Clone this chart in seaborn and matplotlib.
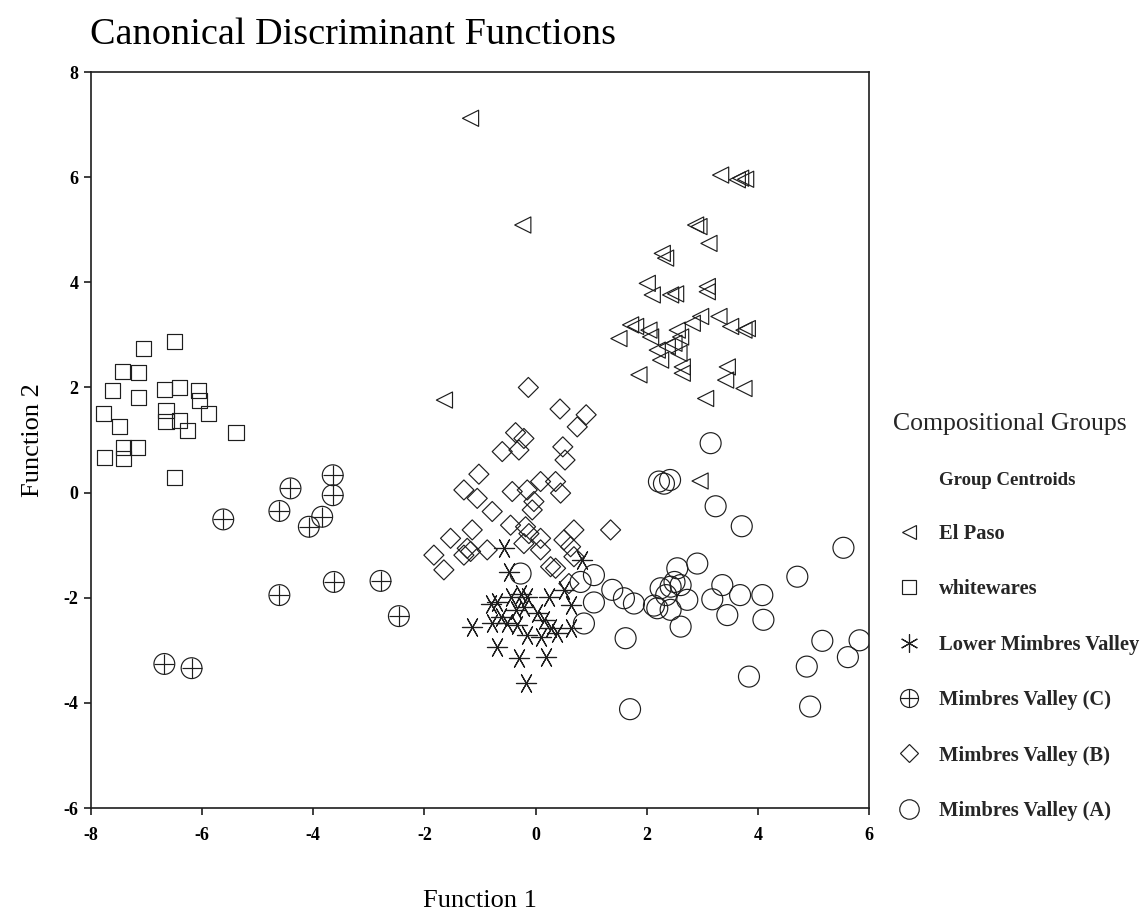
import matplotlib
matplotlib.use("Agg")
import matplotlib.pyplot as plt
from matplotlib.lines import Line2D
import seaborn as sns
import pandas as pd

# ---- Discriminant scores per compositional group ----
el_paso_f1 = [-1.17, -0.23, -1.64, 2.96, 3.33, 3.63, 3.78, 3.69, 2.88, 2.94, 3.12,
              2.28, 2.34, 2.01, 2.10, 2.43, 2.52, 3.09, 3.09, 1.71, 1.80, 1.50,
              2.04, 2.07, 2.55, 2.82, 2.97, 3.30, 3.51, 3.75, 3.81, 2.19, 2.37,
              2.49, 2.61, 2.25, 2.58, 2.64, 2.64, 1.86, 3.45, 3.42, 3.75, 3.06]
el_paso_f2 = [7.12, 5.09, 1.76, 0.22, 6.04, 5.95, 5.96, 5.98, 5.09, 5.06, 4.74,
              4.55, 4.46, 3.98, 3.76, 3.76, 3.78, 3.92, 3.82, 3.19, 3.16, 2.93,
              3.09, 2.96, 3.09, 3.22, 3.35, 3.35, 3.16, 3.09, 3.12, 2.71, 2.78,
              2.84, 2.96, 2.52, 2.65, 2.39, 2.27, 2.24, 2.39, 2.14, 1.98, 1.79]

white_f1 = [-7.06, -6.50, -7.44, -7.14, -7.62, -7.15, -6.67, -6.40, -6.07, -6.04,
            -5.89, -7.78, -7.49, -6.65, -6.65, -6.41, -6.26, -5.39, -7.42, -7.17,
            -7.75, -7.42, -6.50]
white_f2 = [2.74, 2.88, 2.30, 2.28, 1.94, 1.81, 1.96, 2.00, 1.94, 1.76,
            1.51, 1.51, 1.25, 1.56, 1.35, 1.38, 1.18, 1.15, 0.85, 0.86,
            0.67, 0.64, 0.28]

lower_f1 = [-0.57, 0.84, -0.48, -0.81, -0.69, -0.45, -0.27, -0.15, -0.21, 0.24,
            0.51, 0.63, -1.14, -0.78, -0.51, -0.33, 0.15, 0.27, 0.39, 0.63,
            -0.15, 0.09, -0.69, -0.30, 0.18, -0.18, -0.36, 0.03, -0.63]
lower_f2 = [-1.06, -1.28, -1.51, -2.11, -2.08, -1.98, -1.92, -1.98, -2.17, -1.98,
            -1.85, -2.14, -2.55, -2.49, -2.49, -2.52, -2.42, -2.58, -2.68, -2.58,
            -2.71, -2.74, -2.93, -3.15, -3.12, -3.63, -2.23, -2.30, -2.36]

mvc_f1 = [-5.62, -4.61, -4.41, -3.65, -3.65, -3.84, -4.08, -4.61, -3.63, -2.79,
          -2.46, -6.68, -6.19]
mvc_f2 = [-0.51, -0.35, 0.08, 0.33, -0.05, -0.46, -0.65, -1.95, -1.70, -1.68,
          -2.35, -3.26, -3.34]

mvb_f1 = [-0.13, 0.44, 0.91, 0.75, -0.36, -0.21, -0.60, -0.30, 0.49, 0.53,
          -1.02, -1.29, -1.05, -0.78, -0.42, -0.15, 0.09, 0.36, 0.45, -0.03,
          -0.06, -0.45, -0.18, -0.12, 0.09, 0.69, 1.35, -1.53, -1.14, -1.23,
          -1.17, -1.29, -1.83, -1.65, -0.87, -0.21, 0.09, 0.51, 0.63, 0.27,
          0.36, 0.60, 0.69]
mvb_f2 = [2.00, 1.59, 1.48, 1.25, 1.14, 1.03, 0.78, 0.81, 0.87, 0.62,
          0.35, 0.05, -0.11, -0.36, 0.02, 0.05, 0.21, 0.21, -0.01, -0.17,
          -0.33, -0.62, -0.65, -0.78, -0.87, -0.71, -0.71, -0.87, -0.71, -1.06,
          -1.12, -1.19, -1.19, -1.47, -1.09, -0.97, -1.09, -0.90, -1.03, -1.41,
          -1.44, -1.73, -1.22]

mva_f1 = [-0.27, 0.81, 1.05, 1.05, 0.87, 1.38, 1.59, 1.77, 1.62, 2.22,
          2.31, 2.42, 3.15, 3.24, 3.71, 5.54, 4.71, 2.55, 2.91, 2.25,
          2.43, 2.61, 2.73, 2.19, 2.13, 2.43, 2.61, 3.36, 3.18, 3.68,
          4.08, 3.45, 4.10, 5.16, 5.83, 5.62, 4.88, 3.84, 1.70, 4.94,
          2.35, 2.50]
mva_f2 = [-1.54, -1.70, -1.57, -2.09, -2.49, -1.85, -2.01, -2.11, -2.77, 0.21,
          0.17, 0.24, 0.94, -0.26, -0.64, -1.05, -1.60, -1.44, -1.35, -1.82,
          -1.79, -1.76, -2.04, -2.20, -2.15, -2.23, -2.55, -1.76, -2.03, -1.95,
          -1.95, -2.33, -2.42, -2.82, -2.81, -3.13, -3.31, -3.50, -4.12, -4.07,
          -1.95, -1.70]

group_names = ["El Paso", "whitewares", "Lower Mimbres Valley",
               "Mimbres Valley (C)", "Mimbres Valley (B)", "Mimbres Valley (A)"]

x_ticks = [-8, -6, -4, -2, 0, 2, 4, 6]
y_ticks = [-6, -4, -2, 0, 2, 4, 6, 8]

INK = "#1e1e1e"
SERIF = "Liberation Serif"

sns.set_theme(style="white")
plt.rcParams["font.family"] = [SERIF, "DejaVu Serif"]

fig = plt.figure(figsize=(11.46, 9.13), dpi=100)
ax = fig.add_axes([0.0794, 0.115, 0.6789, 0.8061])

frames = {
    "El Paso": pd.DataFrame({"f1": el_paso_f1, "f2": el_paso_f2}),
    "whitewares": pd.DataFrame({"f1": white_f1, "f2": white_f2}),
    "Lower Mimbres Valley": pd.DataFrame({"f1": lower_f1, "f2": lower_f2}),
    "Mimbres Valley (C)": pd.DataFrame({"f1": mvc_f1, "f2": mvc_f2}),
    "Mimbres Valley (B)": pd.DataFrame({"f1": mvb_f1, "f2": mvb_f2}),
    "Mimbres Valley (A)": pd.DataFrame({"f1": mva_f1, "f2": mva_f2}),
}

lw = 0.85
hollow = dict(facecolors="none", edgecolor=INK, linewidth=lw, legend=False, ax=ax)
lines = dict(color=INK, linewidth=lw, legend=False, ax=ax)

sns.scatterplot(data=frames["El Paso"], x="f1", y="f2", marker="<", s=135, **hollow)
sns.scatterplot(data=frames["whitewares"], x="f1", y="f2", marker="s", s=118, **hollow)
sns.scatterplot(data=frames["Lower Mimbres Valley"], x="f1", y="f2",
                marker=(6, 2, 90), s=210, **lines)
sns.scatterplot(data=frames["Mimbres Valley (C)"], x="f1", y="f2", marker="o", s=225, **hollow)
sns.scatterplot(data=frames["Mimbres Valley (C)"], x="f1", y="f2", marker="+", s=225, **lines)
sns.scatterplot(data=frames["Mimbres Valley (B)"], x="f1", y="f2", marker="D", s=104, **hollow)
sns.scatterplot(data=frames["Mimbres Valley (A)"], x="f1", y="f2", marker="o", s=228, **hollow)

ax.set_xlim(-8, 6)
ax.set_ylim(-6, 8)
ax.set_xticks(x_ticks)
ax.set_yticks(y_ticks)
ax.set_xticklabels([str(t) for t in x_ticks], fontweight="bold", fontsize=13)
ax.set_yticklabels([str(t) for t in y_ticks], fontweight="bold", fontsize=13)
ax.tick_params(axis="x", pad=9)
ax.tick_params(axis="y", pad=4)
ax.tick_params(axis="both", direction="out", length=5, width=1.2, color=INK,
               labelcolor="black", bottom=True, left=True)
for sp in ax.spines.values():
    sp.set_visible(True)
    sp.set_color(INK)
    sp.set_linewidth(1.2)
ax.set_facecolor("white")
ax.grid(False)

ax.set_xlabel("Function 1", fontsize=19, labelpad=33, color="black")
ax.set_ylabel("Function 2", fontsize=19, labelpad=14, color="black")

fig.text(0.0785, 0.962, "Canonical Discriminant Functions", fontsize=27.5,
         ha="left", va="center", color="black")

# legend keys
mk = dict(color=INK, linestyle="none", markeredgewidth=lw, markerfacecolor="none")
handles = [
    Line2D([], [], linestyle="none"),
    Line2D([], [], marker="<", markersize=10.5, **mk),
    Line2D([], [], marker="s", markersize=9.5, **mk),
    Line2D([], [], marker=(6, 2, 0), markersize=13, color=INK, linestyle="none",
           markeredgewidth=lw),
    (Line2D([], [], marker="o", markersize=13, **mk),
     Line2D([], [], marker="+", markersize=13, color=INK, linestyle="none",
            markeredgewidth=lw)),
    Line2D([], [], marker="D", markersize=9, **mk),
    Line2D([], [], marker="o", markersize=14, **mk),
]
labels = ["Group Centroids"] + group_names
leg = ax.legend(handles, labels, loc="upper left",
                bbox_to_anchor=(893 / 1146, 1 - 413 / 913),
                bbox_transform=fig.transFigure, frameon=False,
                title="Compositional Groups", title_fontsize=18.5,
                alignment="left", fontsize=14.8, labelspacing=1.72,
                handlelength=1.6, handletextpad=0.65, borderpad=0,
                borderaxespad=0)
for t in leg.get_texts():
    t.set_fontweight("bold")
leg.get_texts()[0].set_fontsize(13.5)

fig.savefig("out.png", dpi=100, facecolor="white")
